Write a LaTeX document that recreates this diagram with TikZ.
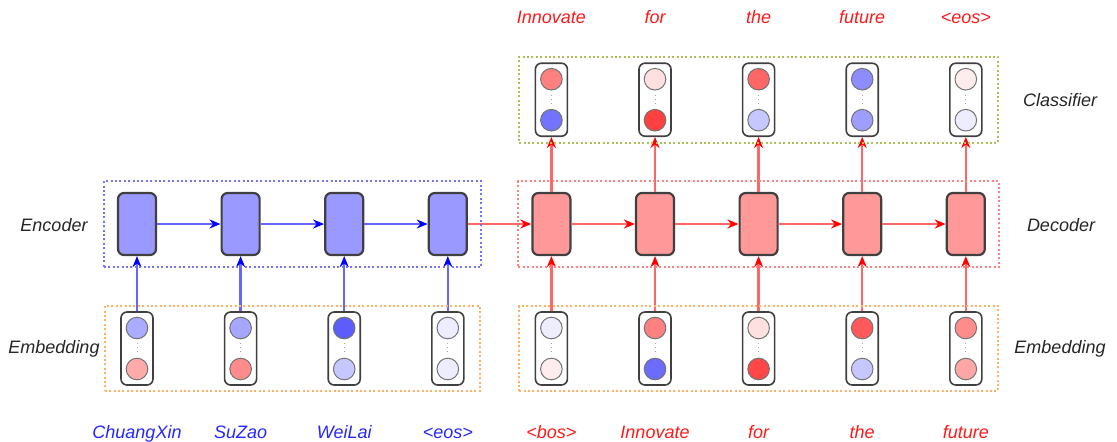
\documentclass[tikz,border=0pt]{standalone}
\usepackage{fontspec}
\setmainfont{Liberation Sans}
\usepackage{xcolor}
\usepackage{tikz}
\usetikzlibrary{arrows.meta,calc,fit}
\definecolor{encfill}{HTML}{9999FF}
\definecolor{decfill}{HTML}{FF9999}
\definecolor{cellline}{HTML}{404040}
\definecolor{clsgrp}{HTML}{B0BC5C}

\begin{document}
\begin{tikzpicture}[
    x=0.5pt, y=-0.5pt,
    cell/.style={draw=cellline, line width=1.1pt, rounded corners=3pt, minimum width=19pt, minimum height=31pt, inner sep=0pt},
    vecbox/.style={draw=cellline, line width=0.8pt, rounded corners=3pt, minimum width=16pt, minimum height=36.5pt, inner sep=0pt},
    unit/.style={circle, draw=black!55, line width=0.5pt, minimum size=10.8pt, inner sep=0pt},
    vdots/.style={draw=black!35, line width=0.5pt, dash pattern=on 0.5pt off 1.5pt, shorten >=2pt, shorten <=2pt},
    grp/.style={line width=1pt, dash pattern=on 1pt off 1.2pt, inner sep=0pt},
    word/.style={font=\fontsize{9}{11}\selectfont\itshape, anchor=base, inner sep=0pt},
    encarr/.style={-{Stealth[length=5.5pt,width=4.5pt,color=blue]}, line width=1.2pt, draw=blue!60},
    decarr/.style={-{Stealth[length=5.5pt,width=4.5pt,color=red]}, line width=1.2pt, draw=red!60}
]
    \useasboundingbox (0,0) rectangle (1117,441);

    % encoder side: source embeddings and recurrent cells
    \foreach \i/\x/\ct/\cb/\w in {1/137/blue!33/red!33/ChuangXin, 2/240.6/blue!35/red!45/SuZao,
                                  3/344.2/blue!64/blue!22/WeiLai, 4/447.8/blue!7/blue!7/{<eos>}} {
        \node[vecbox] (src\i) at (\x,348.5) {};
        \node[unit, fill=\ct] (src\i-t) at ($(src\i)+(0,-20.5)$) {};
        \node[unit, fill=\cb] (src\i-b) at ($(src\i)+(0,20.5)$) {};
        \draw[vdots] (src\i-t.south) -- (src\i-b.north);
        \node[word, text=blue!85] (srcw\i) at (\x,438) {\w};
        \node[cell, fill=encfill] (enc\i) at (\x,224) {};
        \draw[encarr] (src\i) -- (enc\i);
    }

    % decoder side: target embeddings, cells and output distributions
    \foreach \i/\x/\ct/\cb/\w/\dt/\db/\o in {1/551.4/blue!7/red!7/{<bos>}/red!50/blue!55/Innovate,
                                             2/655/red!50/blue!58/Innovate/red!12/red!75/for,
                                             3/758.6/red!12/red!72/for/red!60/blue!22/the,
                                             4/862.2/red!65/blue!22/the/blue!45/blue!38/future,
                                             5/965.8/red!45/red!35/future/red!7/blue!7/{<eos>}} {
        \node[vecbox] (tgt\i) at (\x,348.5) {};
        \node[unit, fill=\ct] (tgt\i-t) at ($(tgt\i)+(0,-20.5)$) {};
        \node[unit, fill=\cb] (tgt\i-b) at ($(tgt\i)+(0,20.5)$) {};
        \draw[vdots] (tgt\i-t.south) -- (tgt\i-b.north);
        \node[word, text=red!90] (tgtw\i) at (\x,438) {\w};
        \node[cell, fill=decfill] (dec\i) at (\x,224) {};
        \draw[decarr] (tgt\i) -- (dec\i);
        \node[vecbox] (cls\i) at (\x,99.7) {};
        \node[unit, fill=\dt] (cls\i-t) at ($(cls\i)+(0,-20.5)$) {};
        \node[unit, fill=\db] (cls\i-b) at ($(cls\i)+(0,20.5)$) {};
        \draw[vdots] (cls\i-t.south) -- (cls\i-b.north);
        \draw[decarr] (dec\i) -- (cls\i);
        \node[word, text=red!90] (out\i) at (\x,23) {\o};
    }

    % recurrent connections
    \foreach \i in {1,2,3} {
        \pgfmathtruncatemacro\j{\i+1}
        \draw[encarr] (enc\i) -- (enc\j);
    }
    \draw[decarr] (enc4) -- (dec1);
    \foreach \i in {1,2,3,4} {
        \pgfmathtruncatemacro\j{\i+1}
        \draw[decarr] (dec\i) -- (dec\j);
    }

    % dotted groups
    \node[grp, draw=blue!55, fit=(enc1)(enc4), inner xsep=6.5pt, inner ysep=5.5pt] (encgrp) {};
    \node[grp, draw=red!50, fit=(dec1)(dec5), inner xsep=6.5pt, inner ysep=5.5pt] (decgrp) {};
    \node[grp, draw=orange!60, fit=(src1)(src4), inner xsep=7.75pt, inner ysep=2.6pt] (srcgrp) {};
    \node[grp, draw=orange!60, fit=(tgt1)(tgt5), inner xsep=7.75pt, inner ysep=2.6pt] (tgtgrp) {};
    \node[grp, draw=clsgrp, fit=(cls1)(cls5), inner xsep=7.75pt, inner ysep=2.8pt] (clsgrp) {};

    % layer names
    \node[word, text=black!85] (enclab) at (54,231) {Encoder};
    \node[word, text=black!85] (srclab) at (54,353) {Embedding};
    \node[word, text=black!85] (declab) at (1061,231) {Decoder};
    \node[word, text=black!85] (clslab) at (1060,106) {Classifier};
    \node[word, text=black!85] (tgtlab) at (1060,353) {Embedding};
\end{tikzpicture}
\end{document}
